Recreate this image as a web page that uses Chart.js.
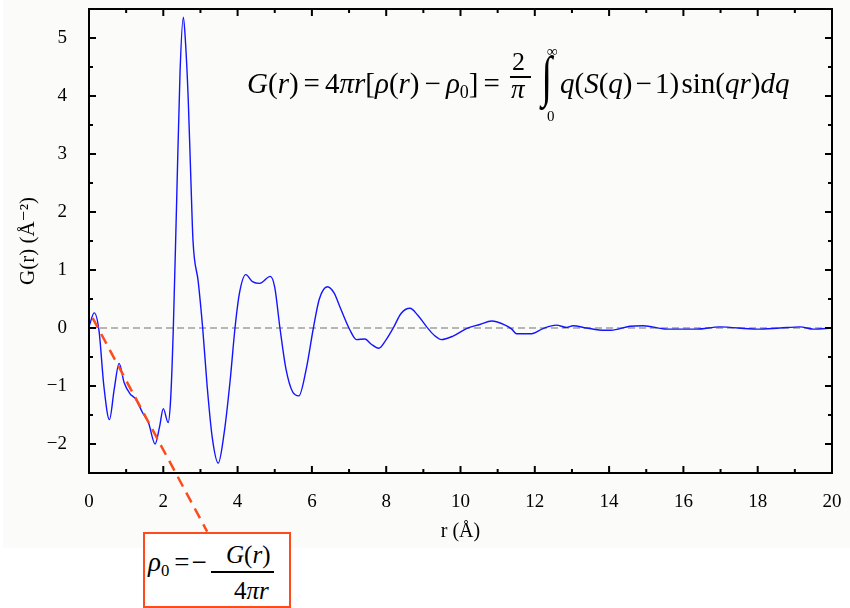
<!DOCTYPE html>
<html>
<head>
<meta charset="utf-8">
<script src="https://cdn.jsdelivr.net/npm/chart.js@4.4.1/dist/chart.umd.min.js"></script>
<style>
  body { margin: 0; background: #fff; }
  #wrap { position: relative; width: 850px; height: 608px; overflow: hidden; }
  #bg { position: absolute; left: 3px; top: 0; width: 847px; height: 548px; background: #fbfcfa; }
  #chart { position: absolute; left: 0; top: 0; }
  .eq { position: absolute; font-family: 'Liberation Serif', 'DejaVu Serif', serif; color: #000;
        white-space: nowrap; line-height: 1; }
  .eq i { font-style: italic; }
  .sub { font-size: 0.62em; position: relative; top: 0.28em; font-style: normal; }
  .op { margin: 0 5px; }
  .op2 { margin: 0 3px; }
  #box { position: absolute; left: 143px; top: 532px; width: 144px; height: 72px;
         border: 2px solid #ff4a1c; background: #fff; }
</style>
</head>
<body>
<div id="wrap">
  <div id="bg"></div>
  <canvas id="chart" width="850" height="608"></canvas>

  <!-- G(r) definition -->
  <div class="eq" style="left:247px; top:69px; font-size:29px;"><i>G</i>(<i>r</i>)<span class="op">=</span>4<i>πr</i>[<i>ρ</i>(<i>r</i>)<span class="op">−</span><i>ρ</i><span class="sub">0</span>]<span class="op" style="margin-right:0">=</span></div>
  <div class="eq" style="left:512px; top:49px; font-size:26px;">2</div>
  <div style="position:absolute; left:510px; top:76px; width:21px; height:1.5px; background:#000;"></div>
  <div class="eq" style="left:511px; top:76px; font-size:27px;"><i>π</i></div>
  <div class="eq" style="left:539px; top:48px; font-size:56px; transform:scaleX(0.7);">∫</div>
  <div class="eq" style="left:547px; top:44px; font-size:15px;">∞</div>
  <div class="eq" style="left:547px; top:109px; font-size:15px;">0</div>
  <div class="eq" style="left:560px; top:69px; font-size:29px;"><i>q</i>(<i>S</i>(<i>q</i>)<span class="op2">−</span>1)&#8202;sin(<i>qr</i>)<i>dq</i></div>

  <!-- rho0 box -->
  <div id="box"></div>
  <div class="eq" style="left:148px; top:549px; font-size:27px;"><i>ρ</i><span class="sub">0</span><span style="margin-left:5px">=</span><span style="margin-left:2px">−</span></div>
  <div class="eq" style="left:226px; top:542px; font-size:25px;"><i>G</i>(<i>r</i>)</div>
  <div style="position:absolute; left:211px; top:571px; width:63px; height:1.5px; background:#000;"></div>
  <div class="eq" style="left:234px; top:578px; font-size:25px;">4<i>πr</i></div>
</div>

<script>
// r in Angstrom and G(r) values
const rValues = [0, 0.14, 0.27, 0.4, 0.55, 0.68, 0.81, 0.95, 1.1, 1.25, 1.45, 1.6, 1.78, 1.9, 2.0, 2.13,
  2.2, 2.27, 2.36, 2.45, 2.54, 2.6, 2.67, 2.74, 2.8, 2.94, 3.06, 3.18, 3.32, 3.48, 3.64, 3.8, 3.93,
  4.05, 4.22, 4.4, 4.6, 4.88, 5.0, 5.14, 5.3, 5.48, 5.65, 5.85, 6.04, 6.2, 6.42, 6.6, 6.75, 7.02,
  7.2, 7.43, 7.6, 7.8, 8.0, 8.19, 8.4, 8.64, 8.85, 9.09, 9.3, 9.49, 9.8, 10.16, 10.52, 10.84, 11.2,
  11.38, 11.51, 11.91, 12.22, 12.58, 12.85, 13.03, 13.39, 13.88, 14.05, 14.56, 14.92, 15.55, 16.36,
  16.98, 17.97, 18.6, 19.14, 19.5, 20];
const gValues = [0.02, 0.26, -0.05, -1.0, -1.58, -1.05, -0.61, -0.95, -1.13, -1.22, -1.47, -1.63, -2.0, -1.7, -1.39, -1.63,
  -1.2, 0.0, 2.2, 4.4, 5.36, 4.9, 3.96, 2.6, 1.5, 0.8, 0.0, -1.0, -1.9, -2.33, -1.8, -0.9, 0.0,
  0.6, 0.92, 0.8, 0.77, 0.89, 0.7, 0.0, -0.7, -1.1, -1.17, -0.7, 0.0, 0.5, 0.71, 0.6, 0.37, -0.03,
  -0.2, -0.19, -0.28, -0.35, -0.2, 0.0, 0.25, 0.34, 0.22, 0.02, -0.13, -0.2, -0.14, -0.01, 0.06, 0.12, 0.05,
  -0.02, -0.1, -0.1, -0.01, 0.05, 0.01, 0.04, 0.0, -0.04, -0.04, 0.03, 0.04, -0.02, -0.02,
  0.02, -0.02, 0.0, 0.02, -0.02, 0.0];

// tangent line giving rho0 (runs down to the annotation box)
const slopeR = [0.1, 3.18];
const slopeG = [0.17, -3.51];

const xTicks = [0, 2, 4, 6, 8, 10, 12, 14, 16, 18, 20];
const yTicks = [-2, -1, 0, 1, 2, 3, 4, 5];

const serif = "'Liberation Serif', 'DejaVu Serif', serif";

// inward ticks on all four sides plus the frame
const frameTicks = {
  id: 'frameTicks',
  afterDatasetsDraw(chart) {
    const { ctx, chartArea: a, scales: { x, y } } = chart;
    ctx.save();
    ctx.strokeStyle = '#000';
    ctx.lineWidth = 2;
    ctx.beginPath();
    for (let v = 0; v <= 20; v += 1) {
      const px = x.getPixelForValue(v);
      const len = v % 2 === 0 ? 7 : 4;
      ctx.moveTo(px, a.bottom); ctx.lineTo(px, a.bottom - len);
      ctx.moveTo(px, a.top); ctx.lineTo(px, a.top + len);
    }
    for (let v = -2.5; v <= 5.5; v += 0.5) {
      const py = y.getPixelForValue(v);
      const len = Number.isInteger(v) ? 7 : 4;
      ctx.moveTo(a.left, py); ctx.lineTo(a.left + len, py);
      ctx.moveTo(a.right, py); ctx.lineTo(a.right - len, py);
    }
    ctx.stroke();
    ctx.strokeRect(a.left, a.top, a.right - a.left, a.bottom - a.top);
    ctx.restore();
  }
};

new Chart(document.getElementById('chart'), {
  type: 'line',
  data: {
    datasets: [
      {
        data: slopeR.map((r, i) => ({ x: r, y: slopeG[i] })),
        borderColor: '#ff4a1c',
        borderWidth: 2.5,
        borderDash: [11, 7],
        pointRadius: 0,
        clip: false
      },
      {
        data: rValues.map((r, i) => ({ x: r, y: gValues[i] })),
        borderColor: '#1414ff',
        borderWidth: 1.4,
        pointRadius: 0,
        cubicInterpolationMode: 'monotone'
      },
      {
        data: [{ x: 0, y: 0 }, { x: 20, y: 0 }],
        borderColor: '#707070',
        borderWidth: 1.2,
        borderDash: [7, 4],
        pointRadius: 0
      }
    ]
  },
  options: {
    responsive: false,
    animation: false,
    events: [],
    layout: { padding: { top: 9, right: 18, left: 0, bottom: 0 } },
    plugins: { legend: { display: false }, tooltip: { enabled: false } },
    scales: {
      x: {
        type: 'linear',
        min: 0,
        max: 20,
        grid: { display: false },
        border: { display: false },
        afterBuildTicks: s => { s.ticks = xTicks.map(v => ({ value: v })); },
        afterFit: s => { s.height = 135; s.paddingLeft = 0; s.paddingRight = 0; },
        ticks: { font: { family: serif, size: 19 }, color: '#000', padding: 10, maxRotation: 0 },
        title: { display: true, text: 'r (Å)', font: { family: serif, size: 20 }, color: '#000',
                 padding: { top: 0, bottom: 64 } }
      },
      y: {
        type: 'linear',
        min: -2.5,
        max: 5.5,
        grid: { display: false },
        border: { display: false },
        afterBuildTicks: s => { s.ticks = yTicks.map(v => ({ value: v })); },
        afterFit: s => { s.width = 89; s.paddingTop = 0; s.paddingBottom = 0; },
        ticks: { font: { family: serif, size: 19 }, color: '#000', padding: 14,
                 callback: v => String(v).replace('-', '\u2212') },
        title: { display: true, text: 'G(r) (Å⁻²)', font: { family: serif, size: 21 }, color: '#000',
                 padding: { top: 16, bottom: 0 } }
      }
    }
  },
  plugins: [frameTicks]
});
</script>
</body>
</html>
